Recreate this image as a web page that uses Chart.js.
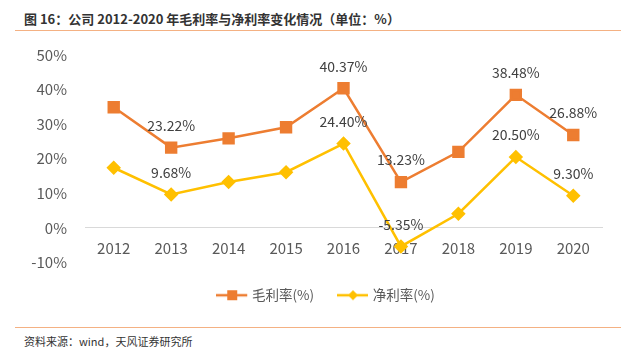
<!DOCTYPE html>
<html>
<head>
<meta charset="utf-8">
<script src="https://cdn.jsdelivr.net/npm/chart.js@4/dist/chart.umd.min.js"></script>
<style>
  html, body { margin: 0; padding: 0; background: #fff; }
  body { width: 640px; height: 356px; position: relative; overflow: hidden; font-family: "Noto Sans CJK SC", sans-serif; }
  #title { position: absolute; left: 24px; top: 9px; font-size: 13px; font-weight: bold; color: #333; white-space: nowrap; }
  .rule { position: absolute; left: 15px; width: 606px; height: 1px; background: #F4B183; }
  #source { position: absolute; left: 24px; top: 333px; font-size: 11px; color: #333; white-space: nowrap; }
  #wrap { position: absolute; left: 0; top: 36px; width: 640px; height: 276px; }
</style>
</head>
<body>
<div id="title">图 16：公司 2012-2020 年毛利率与净利率变化情况（单位：%）</div>
<div class="rule" style="top:30px"></div>
<div id="wrap"><canvas id="c"></canvas></div>
<div class="rule" style="top:327px"></div>
<div id="source">资料来源：wind，天风证券研究所</div>
<script>
// 数据
const years = ['2012', '2013', '2014', '2015', '2016', '2017', '2018', '2019', '2020'];
const grossMargin = [34.9, 23.22, 25.9, 29.1, 40.37, 13.23, 22.0, 38.48, 26.88];
const netMargin = [17.4, 9.68, 13.3, 16.1, 24.40, -5.35, 4.1, 20.50, 9.30];
const labeledIdx = [1, 4, 5, 7, 8]; // 只标注这些年份
const yTicks = [-10, 0, 10, 20, 30, 40, 50];

const ORANGE = '#ED7D31';
const GOLD = '#FFC000';
const FONT = '"Noto Sans CJK SC", sans-serif';

// 图例图标：线 + 标记
function legendIcon(color, shape) {
  const cv = document.createElement('canvas');
  cv.width = 32; cv.height = 12;
  const g = cv.getContext('2d');
  g.strokeStyle = color; g.lineWidth = 2.5;
  g.beginPath(); g.moveTo(0, 6); g.lineTo(31, 6); g.stroke();
  g.fillStyle = color;
  if (shape === 'rect') {
    g.fillRect(11, 1, 10, 10);
  } else {
    g.beginPath(); g.moveTo(16, 1); g.lineTo(21, 6); g.lineTo(16, 11); g.lineTo(11, 6); g.closePath(); g.fill();
  }
  return cv;
}

// 数据标签插件
const valueLabels = {
  id: 'valueLabels',
  afterDatasetsDraw(chart) {
    const ctx = chart.ctx;
    ctx.save();
    ctx.font = '14px ' + FONT;
    ctx.fillStyle = '#404040';
    ctx.textAlign = 'center';
    ctx.textBaseline = 'middle';
    chart.data.datasets.forEach((ds, di) => {
      const meta = chart.getDatasetMeta(di);
      labeledIdx.forEach(i => {
        const p = meta.data[i];
        ctx.fillText(ds.data[i].toFixed(2) + '%', p.x, p.y - 22);
      });
    });
    ctx.restore();
  }
};

// 图例整体右移，使其居中于原图位置
const legendShift = {
  id: 'legendShift',
  afterLayout(chart) {
    const lg = chart.legend;
    lg.left += 26; lg.right += 26;
  }
};

new Chart(document.getElementById('c'), {
  type: 'line',
  data: {
    labels: years,
    datasets: [{
      label: '毛利率(%)',
      data: grossMargin,
      borderColor: ORANGE,
      backgroundColor: ORANGE,
      borderWidth: 2.5,
      pointStyle: 'rect',
      pointRadius: 7,
      pointHoverRadius: 7,
      tension: 0
    }, {
      label: '净利率(%)',
      data: netMargin,
      borderColor: GOLD,
      backgroundColor: GOLD,
      borderWidth: 2.5,
      pointStyle: 'rectRot',
      pointRadius: 5.5,
      pointHoverRadius: 5.5,
      tension: 0
    }]
  },
  options: {
    responsive: true,
    maintainAspectRatio: false,
    animation: false,
    layout: { padding: { top: 8, right: 38, bottom: 0, left: 0 } },
    plugins: {
      tooltip: { enabled: false },
      legend: {
        position: 'bottom',
        labels: {
          usePointStyle: true,
          pointStyleWidth: 26,
          boxHeight: 12,
          padding: 26,
          color: '#595959',
          font: { family: FONT, size: 13.5 },
          generateLabels: chart => chart.data.datasets.map((ds, i) => ({
            text: ds.label,
            fontColor: '#595959',
            pointStyle: legendIcon(ds.borderColor, i === 0 ? 'rect' : 'diamond'),
            datasetIndex: i,
            hidden: false,
            lineWidth: 0,
            strokeStyle: 'transparent',
            fillStyle: 'transparent'
          }))
        }
      }
    },
    scales: {
      x: {
        position: { y: 0 },
        offset: true,
        grid: { display: false, drawTicks: false },
        border: { display: true, color: '#D9D9D9', width: 1 },
        ticks: { color: '#595959', font: { family: FONT, size: 15 }, padding: 11 }
      },
      y: {
        min: -10,
        max: 50,
        afterBuildTicks: s => { s.ticks = yTicks.map(v => ({ value: v })); },
        afterFit: s => { s.width = 85; },
        grid: { display: false },
        border: { display: false },
        ticks: { color: '#595959', font: { family: FONT, size: 15 }, padding: 10, callback: v => v + '%' }
      }
    }
  },
  plugins: [valueLabels, legendShift]
});
</script>
</body>
</html>
